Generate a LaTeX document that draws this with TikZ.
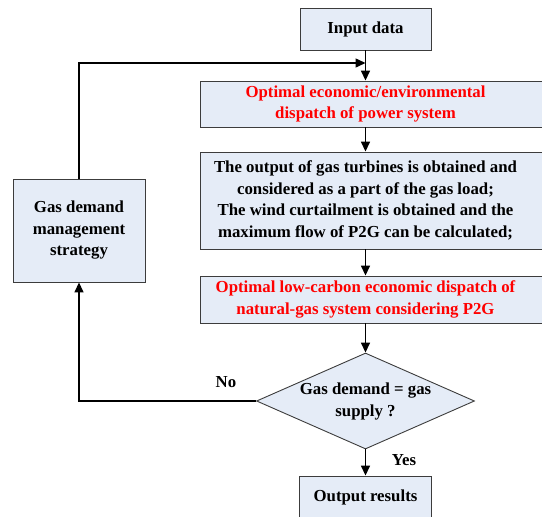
\documentclass[tikz,border=0pt]{standalone}
\usepackage{fontspec}
\setmainfont{Liberation Serif}
\usetikzlibrary{shapes.geometric,arrows.meta}
\definecolor{boxfill}{RGB}{229,236,247}
\definecolor{boxline}{RGB}{60,60,60}
\begin{document}
\begin{tikzpicture}[x=1pt,y=-1pt,
  font=\fontsize{16.8}{21.5}\selectfont\bfseries,
  box/.style={draw=boxline, line width=0.9pt, fill=boxfill, inner sep=0pt},
  txt/.style={align=center, inner sep=0pt},
  redtxt/.style={txt, text=red},
  arr/.style={line width=1.5pt, -{Triangle[length=10pt,width=9pt]}},
]
\useasboundingbox (0,0) rectangle (542,517);
\clip (0,0) rectangle (542,517);

\node[box, minimum width=131pt, minimum height=42pt] (input) at (365.5,29) {Input data};

\node[box, minimum width=345pt, minimum height=46pt] (opt1) at (372.5,104) {};
\node[redtxt] (opt1t) at (365.5,104) {Optimal economic/environmental\\dispatch of power system};

\node[box, minimum width=345pt, minimum height=97pt] (gt) at (372.5,200.5) {};
\node[txt] (gtt) at (365.5,200.5) {The output of gas turbines is obtained and\\considered as a part of the gas load;\\The wind curtailment is obtained and the\\maximum flow of P2G can be calculated;};

\node[box, minimum width=345pt, minimum height=47pt] (opt2) at (372.5,299.5) {};
\node[redtxt] (opt2t) at (365.5,299.5) {Optimal low-carbon economic dispatch of\\natural-gas system considering P2G};

\node[diamond, draw=boxline, line width=0.9pt, fill=boxfill, inner sep=0pt,
      aspect=2.27, minimum width=218pt, minimum height=96pt] (dec) at (365.5,401) {};
\node[txt] (dect) at (365.5,401.5) {Gas demand = gas\\supply ?};

\node[box, minimum width=132pt, minimum height=42pt] (out) at (365.5,497) {Output results};

\node[box, minimum width=132pt, minimum height=103pt] (gdm) at (79,230.5) {};
\node[txt] (gdmt) at (79,230.5) {Gas demand\\management\\strategy};

\coordinate (top) at (365.5,63);

\draw[arr] (input.south) -- (input.south |- opt1.north);
\draw[arr] (input.south |- opt1.south) -- (input.south |- gt.north);
\draw[arr] (input.south |- gt.south) -- (input.south |- opt2.north);
\draw[arr] (input.south |- opt2.south) -- (dec.north);
\draw[arr] (dec.south) -- (out.north);
\draw[arr] (dec.west) -| (gdm.south);
\draw[arr] (gdm.north) |- (top);

\node[txt] (no) at (226,382) {No};
\node[txt] (yes) at (404,460) {Yes};
\end{tikzpicture}
\end{document}
